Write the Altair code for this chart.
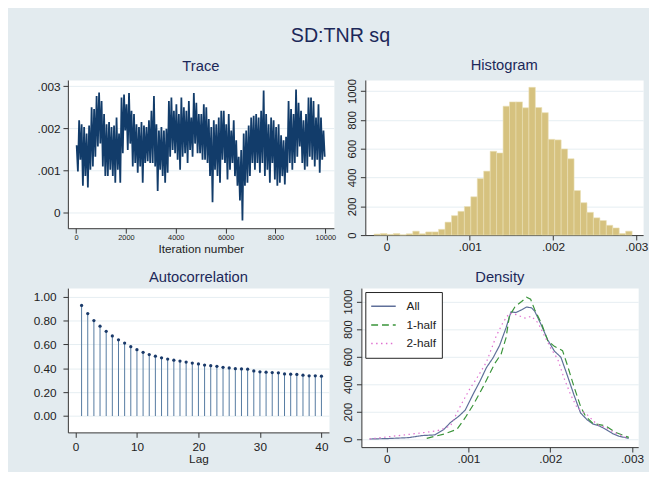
import altair as alt
import pandas as pd

# ---------------- data ----------------
# Trace: per 100-iteration block, the high and low excursion (units of 1e-3)
trace_hi = [1.60, 2.19, 2.10, 2.03, 1.88, 2.07, 2.50, 2.46, 2.77, 2.85,
            2.65, 2.34, 2.10, 2.15, 2.03, 2.07, 2.26, 1.88, 2.73, 2.80,
            2.57, 2.84, 2.42, 2.34, 2.10, 2.03, 2.15, 2.07, 2.03, 2.19,
            2.42, 2.77, 2.10, 1.95, 2.03, 1.95, 1.99, 2.65, 2.73, 2.42,
            2.57, 2.34, 2.73, 2.50, 2.42, 2.65, 2.26, 2.84, 2.61, 2.34,
            2.34, 2.57, 2.50, 2.22, 2.03, 2.19, 2.10, 2.26, 2.42, 2.42,
            2.10, 2.34, 1.95, 2.19, 1.72, 1.33, 1.49, 1.88, 1.95, 2.07,
            2.26, 2.30, 2.34, 2.26, 2.42, 2.90, 2.34, 2.10, 2.26, 2.19,
            2.03, 2.10, 1.84, 1.72, 1.80, 2.65, 2.46, 2.34, 2.92, 2.61,
            2.42, 2.19, 2.34, 2.73, 2.73, 2.65, 2.26, 2.57, 2.26, 1.95]
trace_lo = [0.98, 1.26, 0.64, 0.87, 0.60, 1.02, 1.10, 1.33, 1.57, 1.64,
            1.10, 0.87, 0.87, 1.02, 0.87, 0.71, 1.02, 0.71, 1.41, 1.95,
            1.49, 1.64, 1.10, 1.18, 0.95, 1.10, 0.71, 1.18, 1.22, 1.18,
            1.18, 1.10, 0.52, 1.02, 0.87, 0.71, 0.95, 1.33, 1.49, 1.41,
            1.26, 1.02, 1.33, 1.41, 1.18, 1.49, 1.33, 1.64, 1.41, 1.41,
            1.26, 1.26, 1.18, 0.87, 0.25, 1.02, 0.87, 0.71, 1.26, 1.18,
            0.79, 1.02, 1.18, 0.87, 0.64, 0.29, -0.18, 0.64, 0.71, 0.87,
            1.18, 1.02, 1.18, 0.95, 1.18, 0.87, 1.02, 0.71, 1.18, 0.79,
            0.64, 0.71, 0.87, 0.67, 0.95, 1.18, 1.02, 1.18, 1.33, 1.57,
            1.18, 1.02, 1.10, 1.33, 1.26, 1.10, 1.26, 0.95, 1.26, 1.33]
trace_block = 100

# Histogram (40 bins, units of 1e-3 on x, density on y)
hist_start = -0.15
hist_width = 0.0775
hist_density = [7, 11, 5, 11, 2, 9, 27, 9, 22, 22,
                40, 90, 135, 165, 198, 266, 392, 444, 582, 570,
                895, 925, 925, 884, 1026, 886, 850, 665, 661, 598,
                530, 309, 225, 158, 120, 101, 68, 50, 11, 27]

# Autocorrelation
acf_lag = list(range(1, 41))
acf_val = [0.926, 0.858, 0.800, 0.753, 0.710, 0.671, 0.638, 0.611, 0.581, 0.556,
           0.534, 0.515, 0.501, 0.488, 0.477, 0.468, 0.460, 0.452, 0.444, 0.436,
           0.427, 0.422, 0.416, 0.408, 0.403, 0.397, 0.395, 0.392, 0.378, 0.370,
           0.367, 0.364, 0.362, 0.353, 0.351, 0.348, 0.342, 0.337, 0.337, 0.334]

# Density curves (x in 1e-3)
dens_all_x = [-0.21, 0.00, 0.27, 0.43, 0.59, 0.70, 0.78, 0.88, 0.96, 1.06, 1.14, 1.22,
              1.30, 1.38, 1.46, 1.52, 1.58, 1.65, 1.71, 1.77, 1.81, 1.89, 1.97, 2.05,
              2.13, 2.21, 2.29, 2.37, 2.45, 2.52, 2.60, 2.68, 2.76, 2.84, 2.96]
dens_all_y = [0, 3, 10, 25, 30, 70, 120, 165, 210, 330, 420, 520,
              590, 680, 810, 925, 920, 940, 960, 955, 930, 830, 720, 640,
              595, 460, 320, 190, 140, 110, 95, 70, 40, 20, 5]
dens_h1_x = [0.49, 0.70, 0.86, 0.96, 1.06, 1.18, 1.26, 1.32, 1.40, 1.46, 1.50, 1.57,
             1.65, 1.71, 1.76, 1.81, 1.89, 1.97, 2.05, 2.15, 2.21, 2.29, 2.37, 2.43,
             2.52, 2.68, 2.80, 2.96]
dens_h1_y = [5, 36, 71, 155, 250, 381, 476, 548, 619, 738, 893, 964,
             1000, 1031, 1017, 940, 845, 714, 674, 643, 536, 381, 238, 167,
             114, 95, 48, 12]
dens_h2_x = [-0.21, 0.30, 0.47, 0.62, 0.78, 0.91, 1.02, 1.10, 1.22, 1.34, 1.42, 1.50,
             1.58, 1.69, 1.77, 1.85, 1.93, 2.01, 2.09, 2.17, 2.25, 2.33, 2.45, 2.57,
             2.68, 2.78, 2.92]
dens_h2_y = [0, 36, 48, 60, 95, 250, 369, 440, 560, 750, 845, 917,
             905, 880, 893, 845, 750, 655, 583, 440, 321, 226, 178, 107,
             83, 48, 12]
series_names = ["All", "1-half", "2-half"]

# ---------------- styles ----------------
FONT = "Liberation Sans"
BG = "#e3ebef"
TITLE_C = "#1c2859"
TEXT_C = "#222222"
AXIS_C = "#333333"
NAVY = "#123c6a"


def panel_title(text, offset=6):
    return alt.TitleParams(text, fontSize=15, color=TITLE_C, font=FONT,
                           fontWeight="normal", offset=offset, anchor="middle")


frac_expr = "datum.value == 0 ? '0' : '.00' + datum.value"

# ---------------- Trace ----------------
rows = []
for i, (h, l) in enumerate(zip(trace_hi, trace_lo)):
    rows.append({"iter": i * trace_block + 25, "val": h})
    rows.append({"iter": i * trace_block + 75, "val": l})
trace_df = pd.DataFrame(rows)

trace = alt.Chart(trace_df).mark_line(color=NAVY, strokeWidth=1.8, clip=True).encode(
    x=alt.X("iter:Q", scale=alt.Scale(domain=[-327, 10343], nice=False, zero=False),
            axis=alt.Axis(values=[0, 2000, 4000, 6000, 8000, 10000], format="d",
                          title="Iteration number", labelFontSize=7.5, labelPadding=1,
                          titleFontSize=12, titlePadding=2, grid=False)),
    y=alt.Y("val:Q", scale=alt.Scale(domain=[-0.365, 3.147], nice=False, zero=False),
            axis=alt.Axis(values=[0, 1, 2, 3], labelExpr=frac_expr,
                          title=None, labelFontSize=12, labelPadding=3)),
).properties(width=271, height=151, title=panel_title("Trace"))

# ---------------- Histogram ----------------
hist_df = pd.DataFrame({
    "lo": [hist_start + i * hist_width for i in range(len(hist_density))],
    "hi": [hist_start + (i + 1) * hist_width for i in range(len(hist_density))],
    "d": hist_density,
    "zero": [0] * len(hist_density),
})


def frac_axis():
    return alt.Axis(values=[0, 1, 2, 3], labelExpr=frac_expr, title=None,
                    labelFontSize=12, labelPadding=2, grid=False)


def dens_axis():
    return alt.Axis(values=[0, 200, 400, 600, 800, 1000], format="d", title=None,
                    labelFontSize=11.5, labelAngle=270, labelAlign="center",
                    labelBaseline="bottom", labelPadding=3)


hist = alt.Chart(hist_df).mark_rect(color="#d6c27f", stroke="#ebe1b6", strokeWidth=0.6).encode(
    x=alt.X("lo:Q", scale=alt.Scale(domain=[-0.255, 3.082], nice=False, zero=False),
            axis=frac_axis()),
    x2="hi:Q",
    y=alt.Y("d:Q", scale=alt.Scale(domain=[0, 1077], nice=False, zero=False), axis=dens_axis()),
    y2="zero:Q",
).properties(width=283, height=158, title=panel_title("Histogram"))

# ---------------- Autocorrelation ----------------
acf_df = pd.DataFrame({"lag": acf_lag, "ac": acf_val, "zero": [0] * len(acf_lag)})
acf_x = alt.X("lag:Q", scale=alt.Scale(domain=[-1.23, 41.23], nice=False, zero=False),
              axis=alt.Axis(values=[0, 10, 20, 30, 40], title="Lag", grid=False,
                            labelFontSize=12, labelPadding=4, titleFontSize=12, titlePadding=2))
acf_y = alt.Y("ac:Q", scale=alt.Scale(domain=[-0.137, 1.0715], nice=False, zero=False),
              axis=alt.Axis(values=[0.0, 0.2, 0.4, 0.6, 0.8, 1.0], format=".2f", title=None,
                            labelFontSize=12, labelPadding=7))
acf_base = alt.Chart(acf_df)
acf_rules = acf_base.mark_rule(color="#5479a0", strokeWidth=1).encode(x=acf_x, y=acf_y, y2="zero:Q")
acf_dots = acf_base.mark_circle(size=11, color="#1a3a6a", opacity=1).encode(x=acf_x, y=acf_y)
acf = alt.layer(acf_rules, acf_dots).properties(width=266, height=147,
                                                title=panel_title("Autocorrelation", 3))

# ---------------- Density ----------------
drows = []
for name, xs, ys in [("All", dens_all_x, dens_all_y),
                     ("1-half", dens_h1_x, dens_h1_y),
                     ("2-half", dens_h2_x, dens_h2_y)]:
    for k, (xv, yv) in enumerate(zip(xs, ys)):
        drows.append({"series": name, "x": xv, "y": yv, "k": k})
dens_df = pd.DataFrame(drows)

leg = dict(title=None, orient="top-left", offset=4, padding=5, strokeColor="#222222",
           fillColor="white", symbolType="stroke", symbolSize=625, symbolStrokeWidth=1.5,
           labelFontSize=12, labelFont=FONT, labelColor=TEXT_C, labelOffset=10,
           rowPadding=0, clipHeight=19)
dens = alt.Chart(dens_df).mark_line(strokeWidth=1.2, clip=True).encode(
    x=alt.X("x:Q", scale=alt.Scale(domain=[-0.309, 3.075], nice=False, zero=False),
            axis=frac_axis()),
    y=alt.Y("y:Q", scale=alt.Scale(domain=[-59, 1098], nice=False, zero=False), axis=dens_axis()),
    color=alt.Color("series:N", scale=alt.Scale(domain=series_names,
                                                range=["#5f6f99", "#3a943a", "#e070d0"]),
                    legend=alt.Legend(**leg)),
    strokeDash=alt.StrokeDash("series:N", scale=alt.Scale(domain=series_names,
                                                          range=[[1, 0], [7, 4], [1.5, 3.5]]),
                              legend=alt.Legend(**leg)),
    order="k:Q",
).properties(width=282, height=162, title=panel_title("Density", 3))

row1 = alt.hconcat(trace, hist, spacing=32, bounds="flush")
row2 = alt.hconcat(acf, dens, spacing=33, bounds="flush").resolve_scale(
    color="independent", strokeDash="independent")

chart = alt.vconcat(row1, row2, spacing=15,
                    title=alt.TitleParams("SD:TNR sq", fontSize=20, color=TITLE_C, font=FONT,
                                          fontWeight="normal", anchor="middle", offset=12)
                    ).resolve_scale(color="independent", strokeDash="independent").properties(
    background=BG,
    padding={"left": 25, "top": 14, "right": 0, "bottom": 2},
).configure_view(fill="white", stroke="transparent").configure_axis(
    domainColor=AXIS_C, tickColor=AXIS_C, labelColor=TEXT_C, titleColor=TEXT_C,
    labelFont=FONT, titleFont=FONT, titleFontWeight="normal", gridColor="#e6eef2",
    tickSize=5, domainWidth=1, tickWidth=1,
)

chart.save("out.html", embed_options={"renderer": "svg", "actions": False})
